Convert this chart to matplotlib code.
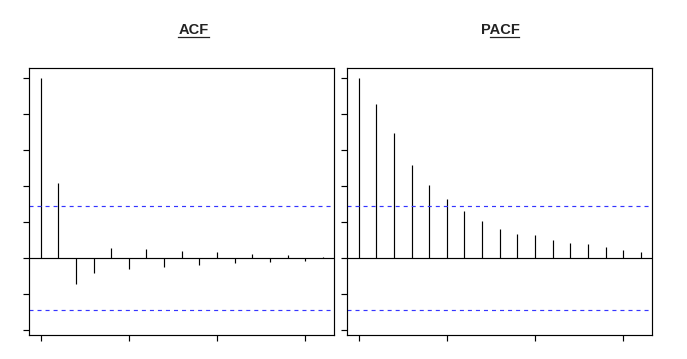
import matplotlib
matplotlib.use("Agg")
import matplotlib.pyplot as plt
from matplotlib.lines import Line2D
import numpy as np

# ---- data ----
lags = list(range(17))
acf_vals = [1.0, 0.417, -0.147, -0.082, 0.056, -0.059, 0.050, -0.048, 0.041,
            -0.039, 0.035, -0.026, 0.022, -0.020, 0.017, -0.015, 0.007]
pacf_vals = [1.0, 0.857, 0.696, 0.518, 0.406, 0.328, 0.262, 0.206, 0.161,
             0.134, 0.128, 0.100, 0.083, 0.078, 0.061, 0.045, 0.033]
conf_upper = 0.288
conf_lower = -0.291
titles = ["ACF", "PACF"]
x_ticks = [0, 5, 10, 15]
y_ticks = [-0.4, -0.2, 0.0, 0.2, 0.4, 0.6, 0.8, 1.0]

W, H = 687, 359
fig = plt.figure(figsize=(W / 100, H / 100), dpi=100)
fig.patch.set_facecolor("white")

lw = 0.85
axes_px = [(29.3, 334.3), (347.3, 652.3)]
top_px, bot_px = 68.0, 335.0

for (x0, x1), vals in zip(axes_px, [acf_vals, pacf_vals]):
    ax = fig.add_axes([x0 / W, (H - bot_px) / H, (x1 - x0) / W, (bot_px - top_px) / H])
    ax.vlines(lags, 0, vals, color="black", linewidth=lw)
    ax.axhline(0, color="black", linewidth=lw)
    dash = (0, (3.4, 3.4))
    ax.axhline(conf_upper, color="#3434ff", linewidth=lw, linestyle=dash)
    ax.axhline(conf_lower, color="#3434ff", linewidth=lw, linestyle=dash)
    ax.set_xlim(-0.64, 16.64)
    ax.set_ylim(-0.4286, 1.056)
    ax.set_xticks(x_ticks)
    ax.set_yticks(y_ticks)
    ax.set_xticklabels([])
    ax.set_yticklabels([])
    ax.tick_params(direction="out", length=4.5, width=lw, color="black")
    for s in ax.spines.values():
        s.set_linewidth(lw)
        s.set_color("black")

# ---- titles with underline ----
title_pos = [193.5, 500.0]
baseline_px = 34.3
underline_px = 36.7
fig.canvas.draw()
renderer = fig.canvas.get_renderer()
fam = ["Liberation Sans", "DejaVu Sans"]
for t, cx in zip(titles, title_pos):
    txt = fig.text(cx / W, (H - baseline_px) / H, t, ha="center", va="baseline",
                   fontsize=10.5, fontweight="bold", family=fam, color="#222222")
    bb = txt.get_window_extent(renderer=renderer)
    ux0, ux1 = bb.x0, bb.x1
    if t == "PACF":
        tmp = fig.text(0, 0, "P", fontsize=10.5, fontweight="bold", family=fam)
        wp = tmp.get_window_extent(renderer=renderer).width
        tmp.remove()
        ux0 = bb.x0 + wp
    uy = H - underline_px
    fig.add_artist(Line2D([ux0 / W, ux1 / W], [uy / H, uy / H], transform=fig.transFigure,
                          color="#222222", linewidth=0.9))

fig.savefig("out.png", dpi=100, facecolor="white")
